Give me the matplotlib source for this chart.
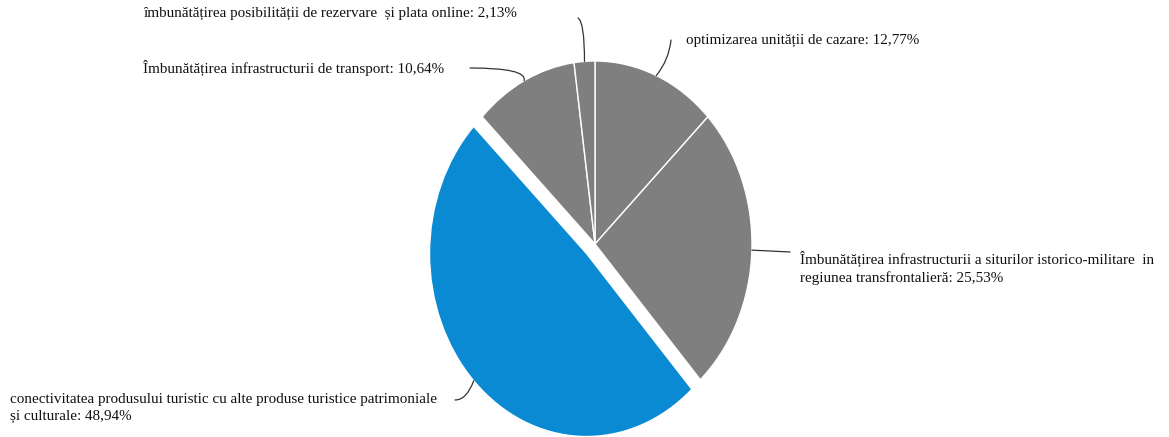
import matplotlib.pyplot as plt
import numpy as np

labels = ["optimizarea unității de cazare: 12,77%",
          "Îmbunătățirea infrastructurii a siturilor istorico-militare  in\nregiunea transfrontalieră: 25,53%",
          "conectivitatea produsului turistic cu alte produse turistice patrimoniale\nși culturale: 48,94%",
          "Îmbunătățirea infrastructurii de transport: 10,64%",
          "îmbunătățirea posibilității de rezervare  și plata online: 2,13%"]
values = np.array([12.77, 25.53, 48.94, 10.64, 2.13])
colors = ["#7f7f7f", "#7f7f7f", "#0a8ad2", "#7f7f7f", "#7f7f7f"]
explode = [0, 0, 0.075, 0, 0]

W, H = 1169, 437
fig = plt.figure(figsize=(W / 100, H / 100), dpi=100)
ax = fig.add_axes([0, 0, 1, 1])

wedges, _ = ax.pie(values, colors=colors, explode=explode, startangle=90,
                   counterclock=False,
                   wedgeprops=dict(edgecolor="white", linewidth=1.0))

# stretch the pie into a slightly tall ellipse, centre at (595, 244) px
cx, cy, rx, ry = 595, 244, 157, 183
ax.set_aspect("auto")
ax.set_xlim(-cx / rx, (W - cx) / rx)
ax.set_ylim(-(H - cy) / ry, cy / ry)
ax.axis("off")

font = dict(family="Liberation Serif", fontsize=10.9, color="#111111")

# text position (px from top-left), leader line end (px), line style
text_pos = [(686, 40, (671, 40), "arc3,rad=-0.15"),
            (800, 268, (790, 252), "arc3,rad=0"),
            (10, 408, (455, 400), "angle3,angleA=0,angleB=-110"),
            (143, 68, (470, 68), "angle3,angleA=0,angleB=75"),
            (143, 13, (578, 18), "angle3,angleA=-30,angleB=90")]

for w, lab, (tx, ty, (lx, ly), cs) in zip(wedges, labels, text_pos):
    mid = np.deg2rad((w.theta1 + w.theta2) / 2)
    ox, oy = w.center
    anchor = (ox + np.cos(mid), oy + np.sin(mid))
    ax.annotate("", xy=anchor, xycoords="data",
                xytext=(lx, H - ly), textcoords="figure pixels",
                arrowprops=dict(arrowstyle="-", color="#333333", lw=0.9,
                                shrinkA=0, shrinkB=0, connectionstyle=cs))
    fig.text(tx / W, 1 - ty / H, lab, ha="left", va="center",
             linespacing=1.45, **font)

fig.savefig("out.png", dpi=100, facecolor="white")
